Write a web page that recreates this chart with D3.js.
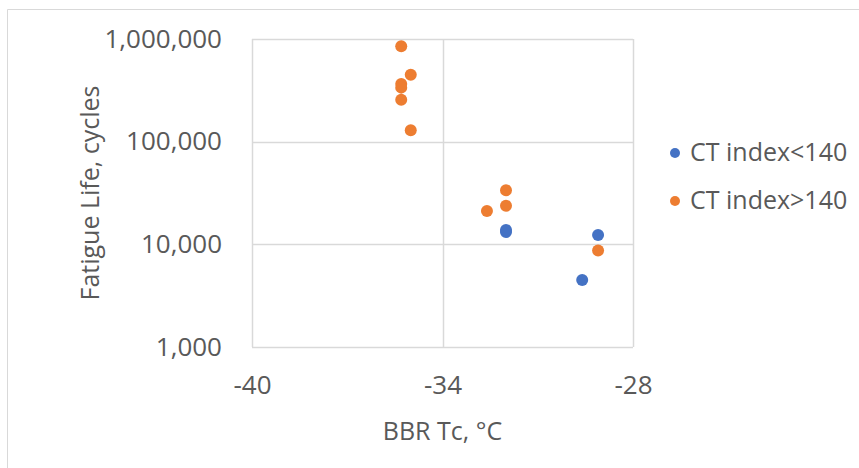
<!DOCTYPE html>
<html>
<head>
<meta charset="utf-8">
<script src="https://cdn.jsdelivr.net/npm/d3@7"></script>
<style>
  body { margin: 0; background: #fff; }
  text { font-family: "Open Sans", "Liberation Sans", sans-serif; fill: #595959; }
</style>
</head>
<body>
<div id="chart"></div>
<script>
// Data
const lowX = [-32, -32, -29.1, -29.6];
const lowY = [13200, 13800, 12300, 4500];
const highX = [-35.3, -35.0, -35.3, -35.3, -35.3, -35.0, -32.0, -32.0, -32.6, -29.1];
const highY = [849000, 449000, 364000, 336000, 256000, 129000, 33700, 23800, 21100, 8700];
const seriesNames = ["CT index<140", "CT index>140"];
const seriesColors = ["#4472C4", "#ED7D31"];
const xTicks = [-40, -34, -28];
const yTicks = [1000, 10000, 100000, 1000000];

const width = 859;
const height = 468;
const margin = { top: 39, right: 226, bottom: 121, left: 252 };
const innerWidth = width - margin.left - margin.right;
const innerHeight = height - margin.top - margin.bottom;

const svg = d3.select("#chart")
    .append("svg")
    .attr("width", width)
    .attr("height", height);

// chart frame: only the top and left edges show in the picture
svg.append("path")
    .attr("d", `M7.5,${height}V9.5H${width}`)
    .attr("fill", "none")
    .attr("stroke", "#D9D9D9");

const chart = svg.append("g")
    .attr("transform", `translate(${margin.left}, ${margin.top})`);

const xScale = d3.scaleLinear().domain([-40, -28]).range([0, innerWidth]);
const yScale = d3.scaleLog().domain([1000, 1000000]).range([innerHeight, 0]);

// gridlines
chart.selectAll(".ygrid")
    .data(yTicks)
    .enter()
    .append("line")
    .attr("x1", 0)
    .attr("x2", innerWidth)
    .attr("y1", (d) => Math.round(yScale(d)) + 0.5)
    .attr("y2", (d) => Math.round(yScale(d)) + 0.5)
    .attr("stroke", "#D9D9D9")
    .attr("stroke-width", 1.5);

chart.selectAll(".xgrid")
    .data(xTicks)
    .enter()
    .append("line")
    .attr("x1", (d) => Math.round(xScale(d)) + 0.5)
    .attr("x2", (d) => Math.round(xScale(d)) + 0.5)
    .attr("y1", 0)
    .attr("y2", innerHeight)
    .attr("stroke", "#D9D9D9")
    .attr("stroke-width", 1.5);

// axes (labels only)
const fmt = d3.format(",");
const yAxis = d3.axisLeft(yScale).tickValues(yTicks).tickFormat(fmt).tickSize(0).tickPadding(30);
const xAxis = d3.axisBottom(xScale).tickValues(xTicks).tickFormat((d) => d).tickSize(0).tickPadding(29);

const yAxisGroup = chart.append("g").call(yAxis);
const xAxisGroup = chart.append("g").attr("transform", `translate(0, ${innerHeight})`).call(xAxis);
[yAxisGroup, xAxisGroup].forEach((g) => {
    g.attr("font-family", null).attr("font-size", 26);
    g.select(".domain").remove();
    g.selectAll("text").attr("fill", "#595959");
});

// axis titles
chart.append("text")
    .attr("x", xScale(-34))
    .attr("y", innerHeight + 93)
    .attr("text-anchor", "middle")
    .style("font-size", "25px")
    .text("BBR Tc, °C");

chart.append("text")
    .attr("transform", "rotate(-90)")
    .attr("x", -innerHeight / 2)
    .attr("y", -153)
    .attr("text-anchor", "middle")
    .style("font-size", "25px")
    .text("Fatigue Life, cycles");

// points
const series = [
    { name: seriesNames[0], color: seriesColors[0], points: lowX.map((x, i) => [x, lowY[i]]) },
    { name: seriesNames[1], color: seriesColors[1], points: highX.map((x, i) => [x, highY[i]]) },
];

series.forEach((s) => {
    chart.selectAll(null)
        .data(s.points)
        .enter()
        .append("circle")
        .attr("cx", (d) => xScale(d[0]))
        .attr("cy", (d) => yScale(d[1]))
        .attr("r", 6)
        .attr("fill", s.color);
});

// legend
const legend = svg.append("g").attr("transform", "translate(675, 153)");
series.forEach((s, i) => {
    const row = legend.append("g").attr("transform", `translate(0, ${i * 48})`);
    row.append("circle").attr("r", 5).attr("fill", s.color);
    row.append("text")
        .attr("x", 15)
        .attr("y", 8)
        .style("font-size", "25px")
        .text(s.name);
});
</script>
</body>
</html>
